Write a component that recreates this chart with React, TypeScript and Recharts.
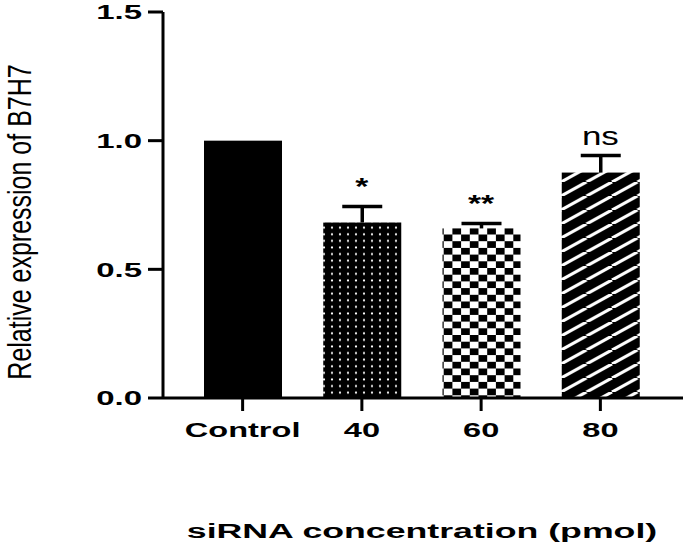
import React from 'react';
import { BarChart, Bar, XAxis, YAxis, Cell, ReferenceDot, Label } from 'recharts';

const categories = ['Control', '40', '60', '80'];
const means = [1.0, 0.682, 0.659, 0.876];
const errors = [0, 0.062, 0.019, 0.066];
const marks = ['', '*', '**', 'ns'];
const yTicks = [0, 0.5, 1.0, 1.5];
const fills = ['#000', 'url(#dots)', 'url(#checker)', 'url(#stripes)'];

const data = categories.map((name, i) => ({ name, value: means[i], err: errors[i] }));

const FONT = '"Liberation Sans", Arial, sans-serif';

const YTick = (props: any) => {
  const { x, y, payload } = props;
  return (
    <text
      transform={`translate(${x - 4},${y}) scale(1.65,1)`}
      textAnchor="end"
      dy="0.36em"
      fontFamily={FONT}
      fontWeight="bold"
      fontSize={20}
      fill="#000"
    >
      {payload.value.toFixed(1)}
    </text>
  );
};

const XTick = (props: any) => {
  const { x, y, payload } = props;
  return (
    <text
      transform={`translate(${x},${y + 24}) scale(1.55,1)`}
      textAnchor="middle"
      fontFamily={FONT}
      fontWeight="bold"
      fontSize={21}
      fill="#000"
    >
      {payload.value}
    </text>
  );
};

// bar + upper-only error bar (px per unit taken from the bar's own scaled height)
const BarWithError = (props: any) => {
  const { x, y, width, height, fill, payload } = props;
  const pxPerUnit = payload.value ? height / payload.value : 0;
  const e = payload.err * pxPerUnit;
  const cx = x + width / 2;
  return (
    <g>
      <rect x={x} y={y} width={width} height={height} fill={fill} />
      {e > 0 && (
        <g stroke="#000" strokeWidth={3.5}>
          <line x1={cx} y1={y} x2={cx} y2={y - e} />
          <line x1={cx - 20} y1={y - e} x2={cx + 20} y2={y - e} />
        </g>
      )}
    </g>
  );
};

const markLabel = (text: string) => (props: any) => {
  const { viewBox } = props;
  const cx = viewBox.x + (viewBox.width || 0) / 2;
  const cy = viewBox.y + (viewBox.height || 0) / 2;
  const isStar = text.includes('*');
  return (
    <text
      transform={`translate(${cx},${cy - (isStar ? 12 : 11)}) scale(1.4,1)`}
      textAnchor="middle"
      fontFamily={FONT}
      fontWeight={isStar ? 'bold' : 'normal'}
      fontSize={isStar ? 24 : 25}
      fill="#000"
    >
      {text}
    </text>
  );
};

export default function App() {
  return (
    <div style={{ position: 'absolute', left: 0, top: 0, background: '#fff' }}>
      <BarChart
        width={685}
        height={548}
        data={data}
        margin={{ top: 12, right: 2, bottom: 0, left: 0 }}
        barSize={78}
      >
        <defs>
          <pattern id="dots" patternUnits="userSpaceOnUse" width={8} height={6.6}>
            <rect width={8} height={6.6} fill="#000" />
            <circle cx={4} cy={3.3} r={1.1} fill="#fff" />
          </pattern>
          <pattern id="checker" patternUnits="userSpaceOnUse" width={17.4} height={13.4}>
            <rect width={17.4} height={13.4} fill="#fff" />
            <rect x={0} y={0} width={8.7} height={6.7} fill="#000" />
            <rect x={8.7} y={6.7} width={8.7} height={6.7} fill="#000" />
          </pattern>
          <pattern id="stripes" patternUnits="userSpaceOnUse" width={25.5} height={14}>
            <rect width={25.5} height={14} fill="#000" />
            <path d="M-25.5,14 L0,0 M0,14 L25.5,0 M25.5,14 L51,0" stroke="#fff" strokeWidth={3.2} />
          </pattern>
        </defs>
        <XAxis
          dataKey="name"
          height={150}
          padding={{ left: 20, right: 23 }}
          stroke="#000"
          strokeWidth={3}
          tickSize={13}
          tickLine={{ stroke: '#000', strokeWidth: 3 }}
          tick={<XTick />}
          interval={0}
        >
          <Label
            content={() => (
              <text
                transform="translate(422,538) scale(1.7,1)"
                textAnchor="middle"
                fontFamily={FONT}
                fontWeight="bold"
                fontSize={21}
                fill="#000"
              >
                siRNA concentration (pmol)
              </text>
            )}
          />
        </XAxis>
        <YAxis
          width={163}
          domain={[0, 1.5]}
          ticks={yTicks}
          stroke="#000"
          strokeWidth={3}
          tickSize={15}
          tickLine={{ stroke: '#000', strokeWidth: 3 }}
          tick={<YTick />}
          interval={0}
        >
          <Label
            content={() => (
              <text
                transform="translate(31,222) scale(1.3,1) rotate(-90)"
                textAnchor="middle"
                fontFamily={FONT}
                fontSize={25}
                fill="#000"
              >
                Relative expression of B7H7
              </text>
            )}
          />
        </YAxis>
        <Bar dataKey="value" isAnimationActive={false} shape={<BarWithError />}>
          {data.map((d, i) => (
            <Cell key={d.name} fill={fills[i]} />
          ))}
        </Bar>
        {categories.map((c, i) =>
          marks[i] ? (
            <ReferenceDot
              key={c}
              x={c}
              y={means[i] + errors[i]}
              r={0}
              fill="none"
              stroke="none"
              label={markLabel(marks[i])}
            />
          ) : null
        )}
      </BarChart>
    </div>
  );
}
